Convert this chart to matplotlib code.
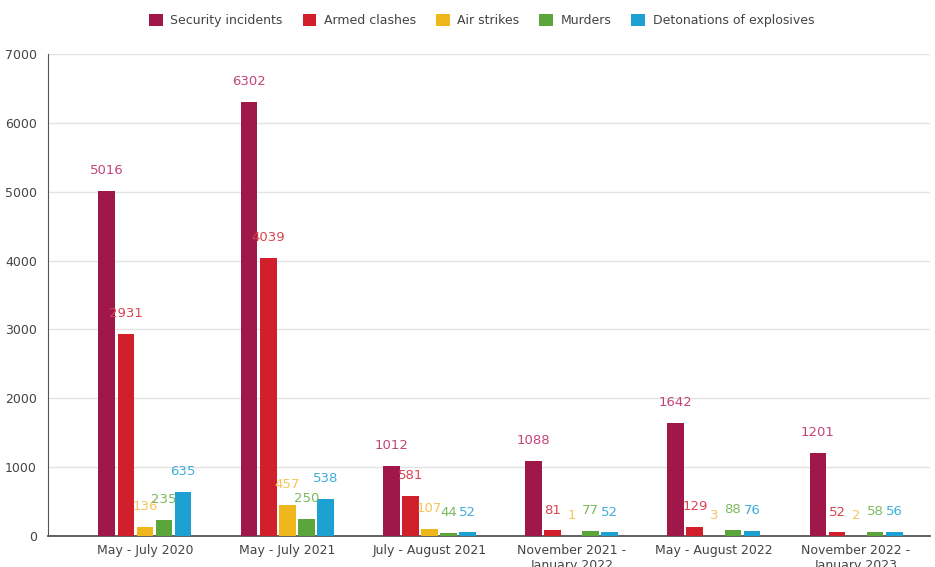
import matplotlib
matplotlib.use("Agg")
import matplotlib.pyplot as plt
import numpy as np

periods = ["May - July 2020", "May - July 2021", "July - August 2021",
           "November 2021 -\nJanuary 2022", "May - August 2022",
           "November 2022 -\nJanuary 2023"]
series_names = ["Security incidents", "Armed clashes", "Air strikes",
                "Murders", "Detonations of explosives"]
security_incidents = [5016, 6302, 1012, 1088, 1642, 1201]
armed_clashes = [2931, 4039, 581, 81, 129, 52]
air_strikes = [136, 457, 107, 1, 3, 2]
murders = [235, 250, 44, 77, 88, 58]
detonations = [635, 538, 52, 52, 76, 56]
yticks = [0, 1000, 2000, 3000, 4000, 5000, 6000, 7000]

series = [security_incidents, armed_clashes, air_strikes, murders, detonations]
colors = ["#A0174A", "#D21F2C", "#F0B71C", "#5BA53B", "#1DA1D3"]
label_colors = ["#C2457A", "#DA4450", "#F3C55A", "#7BB95E", "#3DAEDB"]

fig = plt.figure(figsize=(9.35, 5.67), dpi=100)
ax = fig.add_axes([48/935, 1-536/567, (930-48)/935, (536-54)/567])

x = np.arange(len(periods))
step = 0.134
width = 0.118
for k, (vals, name) in enumerate(zip(series, series_names)):
    pos = x + (k - 2) * step
    ax.bar(pos, vals, width, color=colors[k], label=name, zorder=3)
    for p, v in zip(pos, vals):
        ax.annotate(str(v), (p, v), xytext=(0, 10), textcoords="offset points",
                    ha="center", va="bottom", fontsize=9.5,
                    color=label_colors[k], zorder=4)

ax.set_ylim(0, 7000)
ax.set_xlim(-0.682, 5.52)
ax.set_yticks(yticks)
ax.set_yticklabels([str(t) for t in yticks])
ax.set_xticks(x)
ax.set_xticklabels(periods)
ax.tick_params(axis="both", length=0, labelsize=9, colors="#444444")
ax.tick_params(axis="y", pad=8)
ax.tick_params(axis="x", pad=6)
ax.grid(axis="y", color="#E3E3E3", linewidth=1, zorder=0)
for s in ["top", "right"]:
    ax.spines[s].set_visible(False)
ax.spines["left"].set_color("#555555")
ax.spines["bottom"].set_color("#555555")
ax.spines["bottom"].set_linewidth(1.3)

fig.legend(loc="upper center", bbox_to_anchor=(0.515, 0.995), ncol=5, frameon=False,
           fontsize=9, handlelength=1.1, handleheight=1.1, columnspacing=1.6,
           handletextpad=0.6, labelcolor="#444444")

fig.savefig("out.png", dpi=100)
